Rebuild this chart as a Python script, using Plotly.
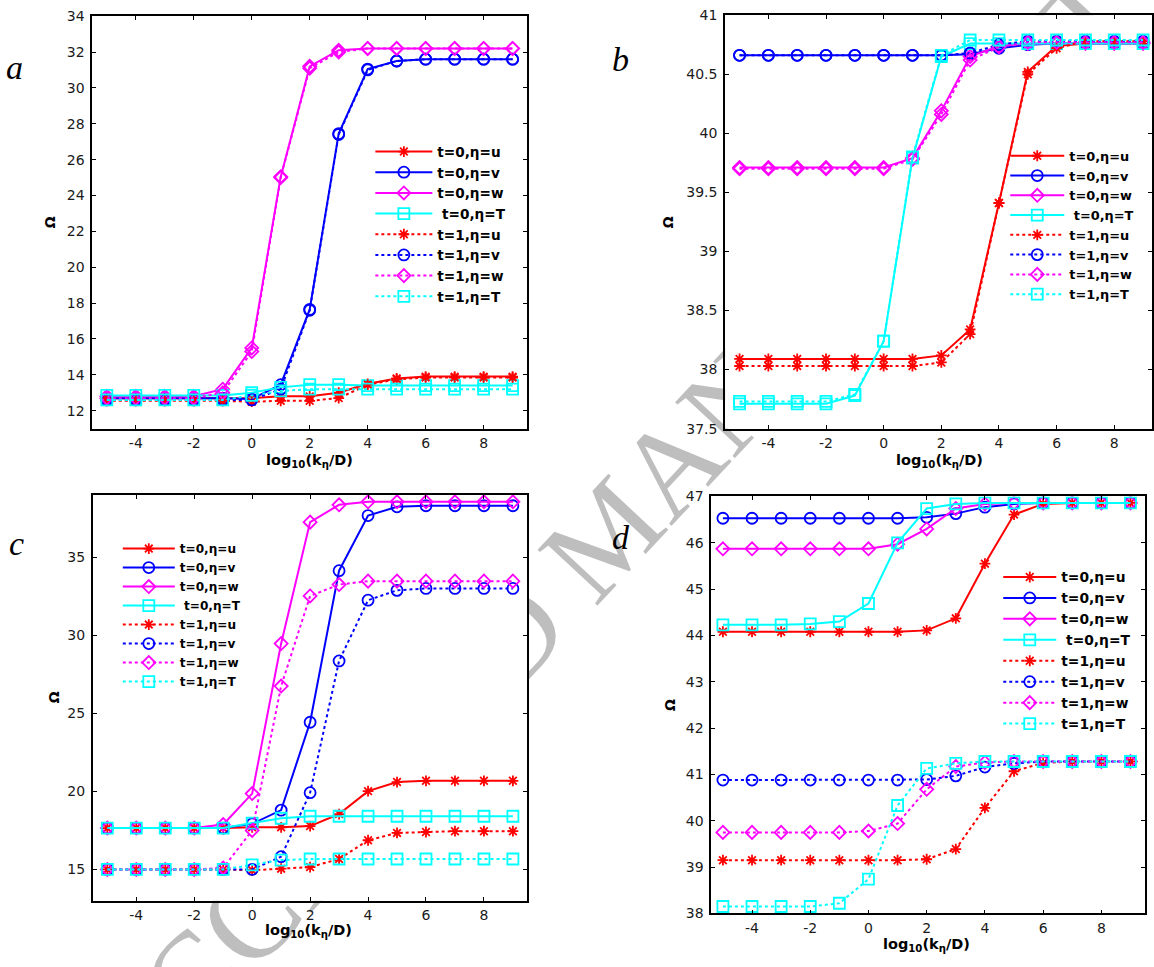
import plotly.graph_objects as go

W, H = 1154, 967

x_vals = [-5, -4, -3, -2, -1, 0, 1, 2, 3, 4, 5, 6, 7, 8, 9]
series_names = ["t=0,η=u", "t=0,η=v", "t=0,η=w", " t=0,η=T",
                "t=1,η=u", "t=1,η=v", "t=1,η=w", "t=1,η=T"]
x_tick_vals = [-4, -2, 0, 2, 4, 6, 8]
x_tick_text = ["-4", "-2", "0", "2", "4", "6", "8"]

# ---- panel a ----
a_t0_u = [12.7, 12.7, 12.7, 12.7, 12.7, 12.7, 12.8, 12.8, 13.0, 13.5, 13.8, 13.9, 13.9, 13.9, 13.9]
a_t0_v = [12.7, 12.7, 12.7, 12.7, 12.7, 12.65, 13.45, 17.65, 27.45, 31.05, 31.5, 31.6, 31.6, 31.6, 31.6]
a_t0_w = [12.8, 12.8, 12.8, 12.8, 13.2, 15.5, 25.05, 31.2, 32.1, 32.2, 32.2, 32.2, 32.2, 32.2, 32.2]
a_t0_T = [12.85, 12.85, 12.85, 12.85, 12.85, 13.0, 13.3, 13.45, 13.45, 13.4, 13.4, 13.4, 13.4, 13.4, 13.4]
a_t1_u = [12.55, 12.55, 12.55, 12.55, 12.55, 12.5, 12.55, 12.55, 12.7, 13.45, 13.75, 13.85, 13.85, 13.85, 13.85]
a_t1_v = [12.6, 12.6, 12.6, 12.6, 12.6, 12.6, 13.2, 17.6, 27.4, 31.0, 31.5, 31.6, 31.6, 31.6, 31.6]
a_t1_w = [12.7, 12.7, 12.7, 12.7, 13.0, 15.3, 25.0, 31.1, 32.0, 32.2, 32.2, 32.2, 32.2, 32.2, 32.2]
a_t1_T = [12.6, 12.6, 12.6, 12.6, 12.6, 12.85, 13.1, 13.2, 13.2, 13.2, 13.2, 13.2, 13.2, 13.2, 13.2]
a_y_ticks = [12, 14, 16, 18, 20, 22, 24, 26, 28, 30, 32, 34]

# ---- panel b ----
b_t0_u = [38.09, 38.09, 38.09, 38.09, 38.09, 38.09, 38.09, 38.12, 38.34, 39.41, 40.52, 40.74, 40.76, 40.76, 40.76]
b_t0_v = [40.66, 40.66, 40.66, 40.66, 40.66, 40.66, 40.66, 40.66, 40.67, 40.72, 40.75, 40.76, 40.76, 40.76, 40.76]
b_t0_w = [39.71, 39.71, 39.71, 39.71, 39.71, 39.71, 39.79, 40.19, 40.65, 40.74, 40.76, 40.76, 40.76, 40.76, 40.76]
b_t0_T = [37.71, 37.71, 37.71, 37.71, 37.78, 38.24, 39.79, 40.65, 40.76, 40.76, 40.76, 40.76, 40.76, 40.76, 40.76]
b_t1_u = [38.03, 38.03, 38.03, 38.03, 38.03, 38.03, 38.03, 38.06, 38.30, 39.41, 40.50, 40.72, 40.78, 40.78, 40.78]
b_t1_v = [40.66, 40.66, 40.66, 40.66, 40.66, 40.66, 40.66, 40.66, 40.68, 40.75, 40.78, 40.78, 40.78, 40.78, 40.78]
b_t1_w = [39.70, 39.70, 39.70, 39.70, 39.70, 39.70, 39.78, 40.16, 40.62, 40.73, 40.77, 40.77, 40.77, 40.77, 40.77]
b_t1_T = [37.73, 37.73, 37.73, 37.73, 37.79, 38.24, 39.80, 40.66, 40.79, 40.79, 40.79, 40.79, 40.79, 40.79, 40.79]
b_y_ticks = [37.5, 38, 38.5, 39, 39.5, 40, 40.5, 41]
b_y_text = ["37.5", "38", "38.5", "39", "39.5", "40", "40.5", "41"]

# ---- panel c ----
c_t0_u = [17.65, 17.65, 17.65, 17.65, 17.65, 17.7, 17.7, 17.78, 18.55, 20.02, 20.6, 20.68, 20.68, 20.68, 20.68]
c_t0_v = [17.65, 17.65, 17.65, 17.65, 17.65, 17.92, 18.8, 24.43, 34.14, 37.67, 38.23, 38.3, 38.3, 38.3, 38.3]
c_t0_w = [17.65, 17.65, 17.65, 17.65, 17.88, 19.86, 29.47, 37.25, 38.36, 38.55, 38.55, 38.55, 38.55, 38.55, 38.55]
c_t0_T = [17.65, 17.65, 17.65, 17.65, 17.65, 17.97, 18.28, 18.41, 18.41, 18.41, 18.41, 18.41, 18.41, 18.41, 18.41]
c_t1_u = [15.0, 15.0, 15.0, 15.0, 15.0, 14.95, 15.05, 15.15, 15.67, 16.87, 17.34, 17.4, 17.45, 17.45, 17.45]
c_t1_v = [15.0, 15.0, 15.0, 15.0, 15.0, 15.0, 15.82, 19.92, 28.36, 32.25, 32.88, 33.0, 33.0, 33.0, 33.0]
c_t1_w = [15.0, 15.0, 15.0, 15.0, 15.1, 17.5, 26.75, 32.52, 33.25, 33.47, 33.47, 33.47, 33.47, 33.47, 33.47]
c_t1_T = [15.0, 15.0, 15.0, 15.0, 15.0, 15.3, 15.6, 15.67, 15.67, 15.67, 15.67, 15.67, 15.67, 15.67, 15.67]
c_y_ticks = [15, 20, 25, 30, 35]

# ---- panel d ----
d_t0_u = [44.08, 44.08, 44.08, 44.08, 44.08, 44.08, 44.08, 44.11, 44.37, 45.55, 46.61, 46.84, 46.86, 46.86, 46.86]
d_t0_v = [46.53, 46.53, 46.53, 46.53, 46.53, 46.53, 46.53, 46.55, 46.63, 46.77, 46.84, 46.86, 46.86, 46.86, 46.86]
d_t0_w = [45.87, 45.87, 45.87, 45.87, 45.87, 45.87, 45.97, 46.30, 46.74, 46.84, 46.86, 46.86, 46.86, 46.86, 46.86]
d_t0_T = [44.23, 44.23, 44.23, 44.25, 44.30, 44.69, 46.0, 46.74, 46.84, 46.86, 46.86, 46.86, 46.86, 46.86, 46.86]
d_t1_u = [39.15, 39.15, 39.15, 39.15, 39.15, 39.15, 39.15, 39.17, 39.39, 40.28, 41.07, 41.25, 41.28, 41.28, 41.28]
d_t1_v = [40.88, 40.88, 40.88, 40.88, 40.88, 40.88, 40.88, 40.89, 40.97, 41.16, 41.24, 41.28, 41.28, 41.28, 41.28]
d_t1_w = [39.75, 39.75, 39.75, 39.75, 39.75, 39.78, 39.94, 40.68, 41.17, 41.26, 41.28, 41.28, 41.28, 41.28, 41.28]
d_t1_T = [38.15, 38.15, 38.15, 38.15, 38.22, 38.74, 40.33, 41.13, 41.24, 41.28, 41.28, 41.28, 41.28, 41.28, 41.28]
d_y_ticks = [38, 39, 40, 41, 42, 43, 44, 45, 46, 47]

colors = ["#ff0000", "#0000ff", "#ff00ff", "#00ffff"] * 2
symbols = ["asterisk-open", "circle-open", "diamond-open", "square-open"] * 2
sizes = [9, 11, 10, 11] * 2
dashes = ["solid"] * 4 + ["dot"] * 4


def px(x):
    return x / W


def py(y):
    return 1 - y / H


panels = [
    dict(ys=[a_t0_u, a_t0_v, a_t0_w, a_t0_T, a_t1_u, a_t1_v, a_t1_w, a_t1_T],
         box=(92.5, 8.3, 528, 427.7), xr=[-5.5, 9.5], yr=[11, 34],
         yt=a_y_ticks, ytt=[str(v) for v in a_y_ticks],
         leg=(371, 145.7, 13.6, 57), lab="a", labpos=(15, 60),
         omega=(50, 218), xtitle=(310, 461)),
    dict(ys=[b_t0_u, b_t0_v, b_t0_w, b_t0_T, b_t1_u, b_t1_v, b_t1_w, b_t1_T],
         box=(726.4, 7.3, 1154, 427.7), xr=[-5.5, 9.31], yr=[37.5, 41],
         yt=b_y_ticks, ytt=b_y_text,
         leg=(1007, 150, 12.9, 54), lab="b", labpos=(622, 52),
         omega=(670, 218), xtitle=(941, 461)),
    dict(ys=[c_t0_u, c_t0_v, c_t0_w, c_t0_T, c_t1_u, c_t1_v, c_t1_w, c_t1_T],
         box=(93, 495, 528.3, 907.7), xr=[-5.5, 9.5], yr=[13, 39],
         yt=c_y_ticks, ytt=[str(v) for v in c_y_ticks],
         leg=(118, 549.3, 12.1, 52), lab="c", labpos=(17, 545),
         omega=(54, 701), xtitle=(309, 939)),
    dict(ys=[d_t0_u, d_t0_v, d_t0_w, d_t0_T, d_t1_u, d_t1_v, d_t1_w, d_t1_T],
         box=(712.5, 496.7, 1147, 920.7), xr=[-5.4, 9.5], yr=[38, 47],
         yt=d_y_ticks, ytt=[str(v) for v in d_y_ticks],
         leg=(1000, 578.3, 13.8, 53), lab="d", labpos=(622, 538),
         omega=(671, 709), xtitle=(928, 953)),
]

fig = go.Figure()
layout = dict(width=W, height=H, margin=dict(l=0, r=0, t=0, b=0),
              paper_bgcolor="white", plot_bgcolor="white",
              font=dict(family="DejaVu Sans", size=14, color="#1a1a1a"),
              showlegend=True)

annotations = []
shapes = []

# watermark, drawn behind the plot areas
shapes.append(dict(type="line", xref="paper", yref="paper",
                   x0=px(599 - 300 * 0.682), y0=py(523.6 + 300 * 0.731),
                   x1=px(599 + 300 * 0.682), y1=py(523.6 - 300 * 0.731),
                   line=dict(width=0, color="rgba(0,0,0,0)"), layer="below",
                   label=dict(text="ACCEPTED MANUSCRIPT", textangle=-47,
                              textposition="middle", xanchor="center",
                              yanchor="middle", padding=0,
                              font=dict(family="Liberation Serif", size=125,
                                        color="#bebebe"))))

for i, p in enumerate(panels):
    k = "" if i == 0 else str(i + 1)
    xa, ya = "x" + k, "y" + k
    legname = "legend" + k
    x0, y0, x1, y1 = p["box"]
    for j in range(8):
        fig.add_trace(go.Scatter(
            x=x_vals, y=p["ys"][j], name=series_names[j], mode="lines+markers",
            xaxis=xa, yaxis=ya, legend=legname,
            line=dict(color=colors[j], width=2, dash=dashes[j]),
            marker=dict(symbol=symbols[j], size=sizes[j], color=colors[j],
                        line=dict(color=colors[j], width=1.8)),
        ))
    axis_common = dict(showline=True, linecolor="black", linewidth=1.8,
                       mirror="ticks", ticks="inside", ticklen=4, tickwidth=1,
                       tickcolor="black", showgrid=False, zeroline=False,
                       tickfont=dict(family="DejaVu Sans", size=14, color="#1a1a1a"))
    layout["xaxis" + k] = dict(domain=[px(x0), px(x1)], range=p["xr"], anchor=ya,
                               tickvals=x_tick_vals, ticktext=x_tick_text,
                               ticklabelstandoff=1, **axis_common)
    layout["yaxis" + k] = dict(domain=[py(y1), py(y0)], range=p["yr"], anchor=xa,
                               tickvals=p["yt"], ticktext=p["ytt"],
                               ticklabelstandoff=3, **axis_common)
    lx, first_center, lfs, lw = p["leg"]
    item_h = lfs * 1.3 + 3
    ltop = first_center - item_h / 2 - 5
    layout[legname] = dict(x=px(lx), y=py(ltop), xanchor="left", yanchor="top",
                           xref="paper", yref="paper",
                           bgcolor="rgba(0,0,0,0)", borderwidth=0, itemwidth=lw,
                           font=dict(family="DejaVu Sans", size=lfs, color="black",
                                     weight="bold"))
    shapes.append(dict(type="rect", xref=xa + " domain", yref=ya + " domain",
                       x0=0, y0=0, x1=1, y1=1, fillcolor="white",
                       line=dict(width=0), layer="below"))
    annotations.append(dict(text=p["lab"], x=px(p["labpos"][0]), y=py(p["labpos"][1]),
                            xref="paper", yref="paper", showarrow=False,
                            xanchor="center", yanchor="middle",
                            font=dict(family="Liberation Serif", size=34,
                                      style="italic", color="black")))
    annotations.append(dict(text="Ω", x=px(p["omega"][0]), y=py(p["omega"][1]),
                            xref="paper", yref="paper", showarrow=False,
                            textangle=-90, xanchor="center", yanchor="middle",
                            font=dict(family="DejaVu Sans", size=14, weight="bold",
                                      color="black")))
    annotations.append(dict(text="log<sub>10</sub>(k<sub>η</sub>/D)",
                            x=px(p["xtitle"][0]), y=py(p["xtitle"][1]),
                            xref="paper", yref="paper", showarrow=False,
                            xanchor="center", yanchor="middle",
                            font=dict(family="DejaVu Sans", size=14.5, weight="bold",
                                      color="black")))

layout["annotations"] = annotations
layout["shapes"] = shapes
fig.update_layout(**layout)
fig.write_html("out.html")
